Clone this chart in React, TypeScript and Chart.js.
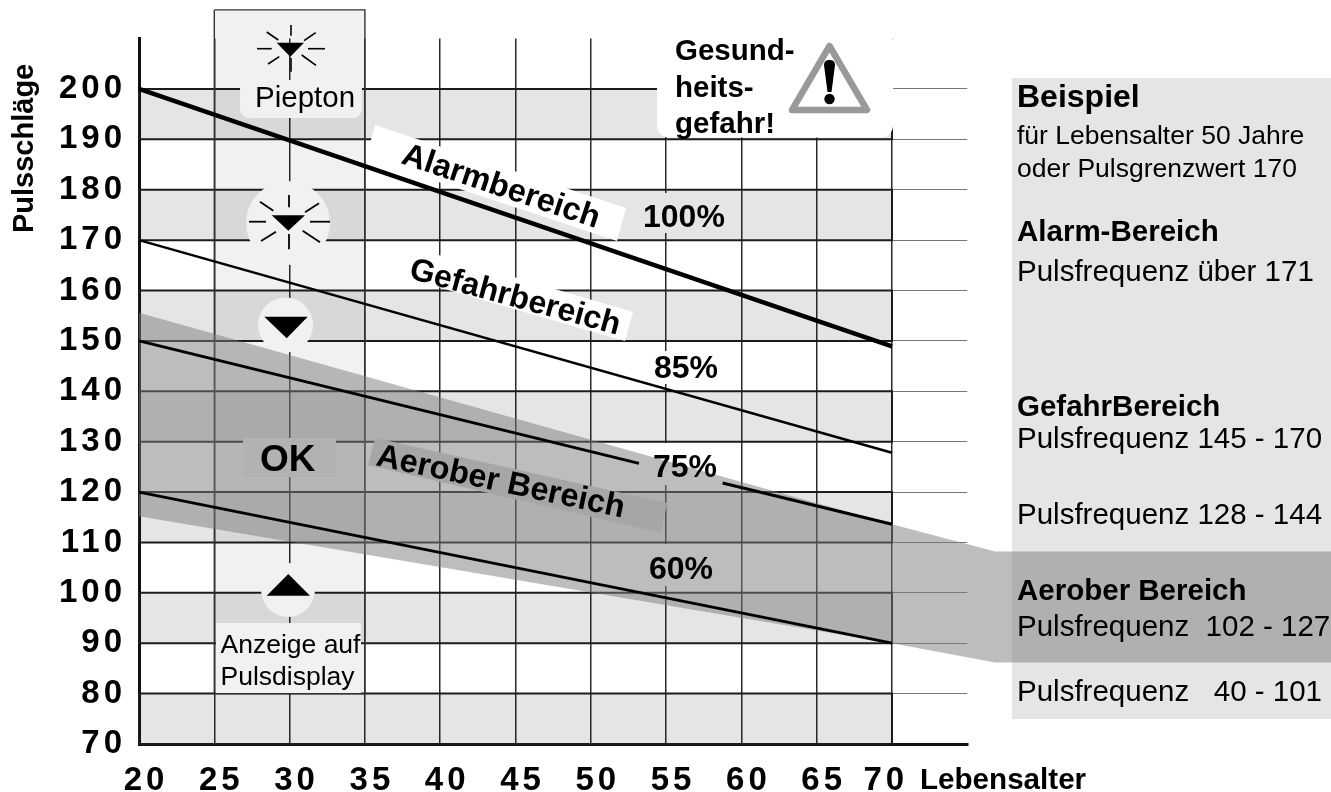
import React, { useEffect, useRef } from "react";
import { Chart, registerables } from "chart.js";

Chart.register(...registerables);

const lineAges = [20, 70];
const pulse100 = [200, 148.9];
const pulse85 = [170, 127.8];
const ages75 = [20, 53.2, null, 58.75, 70];
const pulse75 = [150, 125.7, null, 121.8, 113.6];
const pulse60 = [120, 90];
const bandLows = [190, 170, 150, 130, 110, 90, 70];
const columnAges = [25, 35, 35, 25, 25];
const columnPulse = [215.7, 215.7, 80, 80, 215.7];
const aerobicAges = [20, 70, 76.84, 99.2, 99.2, 76.84, 70, 20];
const aerobicPulse = [155.6, 113.6, 108.2, 108.2, 86.2, 86.2, 90, 115.2];

const yTitle = "Pulsschläge";
const xTitle = "Lebensalter";
const percentLabels = ["100%", "85%", "75%", "60%"];
const zoneLabels = ["Alarmbereich", "Gefahrbereich", "Aerober Bereich"];
const warningLines = ["Gesund-", "heits-", "gefahr!"];
const displayLabels = ["Piepton", "OK", "Anzeige auf", "Pulsdisplay"];
const panelHeads = ["Beispiel", "Alarm-Bereich", "GefahrBereich", "Aerober Bereich"];
const panelNotes = [
  "für Lebensalter 50 Jahre",
  "oder Pulsgrenzwert 170",
];
const panelRanges = [
  "Pulsfrequenz über 171",
  "Pulsfrequenz 145 - 170",
  "Pulsfrequenz 128 - 144",
  "Pulsfrequenz  102 - 127",
  "Pulsfrequenz   40 - 101",
];

const zip = (xs: (number | null)[], ys: (number | null)[]) =>
  xs.map((x, i) => ({ x, y: ys[i] }));

const FONT = '"Liberation Sans", Arial, sans-serif';
const GRID_DARK = "#1c1c1c";

function poly(ctx: any, pts: number[][], color: string) {
  ctx.fillStyle = color;
  ctx.beginPath();
  pts.forEach((p, i) => (i ? ctx.lineTo(p[0], p[1]) : ctx.moveTo(p[0], p[1])));
  ctx.closePath();
  ctx.fill();
}
function circle(ctx: any, x: number, y: number, r: number, color: string) {
  ctx.fillStyle = color;
  ctx.beginPath();
  ctx.arc(x, y, r, 0, Math.PI * 2);
  ctx.fill();
}
function strokes(ctx: any, segs: number[][], w: number) {
  ctx.strokeStyle = "#000";
  ctx.lineWidth = w;
  ctx.lineCap = "butt";
  segs.forEach((s) => {
    ctx.beginPath();
    ctx.moveTo(s[0], s[1]);
    ctx.lineTo(s[2], s[3]);
    ctx.stroke();
  });
}
function text(ctx: any, s: string, x: number, y: number, size: number, bold = false, deg = 0) {
  ctx.save();
  ctx.translate(x, y);
  if (deg) ctx.rotate((deg * Math.PI) / 180);
  ctx.font = `${bold ? "bold " : ""}${size}px ${FONT}`;
  ctx.textAlign = "left";
  ctx.textBaseline = "alphabetic";
  ctx.fillStyle = "#000";
  ctx.fillText(s, 0, 0);
  ctx.restore();
}

function drawLabelGaps(ctx: any) {
  ctx.fillStyle = "#e5e5e5";
  ctx.fillRect(660, 193, 12, 40);
  ctx.fillStyle = "#ffffff";
  ctx.fillRect(660, 351, 12, 33);
  ctx.fillRect(660, 443, 12, 42);
  ctx.fillRect(660, 544, 12, 42);
}

function drawPatches(ctx: any) {
  // rotated label backgrounds
  poly(ctx, [[375, 125], [626, 208], [617, 241], [366, 158]], "#ffffff");
  poly(ctx, [[425, 251], [633, 312], [625, 341], [417, 281]], "#ffffff");
  poly(ctx, [[375, 438], [667, 503], [661, 533], [368, 465]], "#a6a6a6");

  // display column patches
  ctx.fillStyle = "#f1f1f1";
  ctx.beginPath();
  ctx.roundRect(240, 80, 122, 38, 9);
  ctx.fill();
  circle(ctx, 288, 223, 42, "#f1f1f1");
  circle(ctx, 285.5, 325, 27.5, "#f1f1f1");
  circle(ctx, 288, 590, 27, "#f1f1f1");
  ctx.fillRect(216, 623, 145, 70);
  ctx.fillStyle = "#b2b2b2";
  ctx.fillRect(243, 438, 93, 39);

  // warning box
  ctx.fillStyle = "#ffffff";
  ctx.beginPath();
  ctx.roundRect(657, 30, 236, 107.5, 12);
  ctx.fill();
}

function drawIcons(ctx: any) {
  // Piepton icon
  poly(ctx, [[276.7, 42.7], [304, 42.7], [290.3, 56.7]], "#000");
  strokes(ctx, [
    [291, 25, 291, 35.7], [291, 58, 291, 71.7], [257, 48.7, 271.7, 48.7], [308, 48.7, 325, 48.7],
    [266.7, 32, 278.3, 40], [315.7, 32.7, 304, 40.7], [268, 64, 279.3, 56.7], [316, 65.3, 301.7, 55],
  ], 1.6);
  // blinking triangle
  poly(ctx, [[271.7, 215.3], [305, 215.3], [288.3, 230.7]], "#000");
  strokes(ctx, [
    [289, 195, 289, 207.3], [289, 234, 289, 249.3], [249, 221.7, 266, 221.7], [310, 221.7, 330, 221.7],
    [260, 201.7, 273.3, 210.7], [319, 203.3, 305, 212.3], [261, 241, 276, 231.7], [320, 242.3, 302.7, 230.7],
  ], 1.8);
  // steady triangles
  poly(ctx, [[264.3, 316.7], [307.7, 316.7], [286.7, 338.3]], "#000");
  poly(ctx, [[266.7, 595.7], [310, 595.7], [288.3, 574]], "#000");

  // warning triangle
  ctx.strokeStyle = "#999999";
  ctx.lineWidth = 6.5;
  ctx.lineJoin = "round";
  ctx.beginPath();
  ctx.moveTo(829.5, 46);
  ctx.lineTo(867, 110);
  ctx.lineTo(792, 110);
  ctx.closePath();
  ctx.stroke();
  ctx.fillStyle = "#000";
  ctx.beginPath();
  ctx.moveTo(824, 65);
  ctx.quadraticCurveTo(824, 60, 829.5, 60);
  ctx.quadraticCurveTo(835, 60, 835, 65);
  ctx.lineTo(831.5, 92);
  ctx.lineTo(827.5, 92);
  ctx.closePath();
  ctx.fill();
  circle(ctx, 829.5, 99, 5.2, "#000");
}

const overlayPlugin = {
  id: "overlay",
  beforeDraw(chart: any) {
    const ctx = chart.ctx;
    ctx.save();
    ctx.fillStyle = "#ffffff";
    ctx.fillRect(0, 0, chart.width, chart.height);
    ctx.fillStyle = "#e5e5e5";
    ctx.fillRect(1012, 78, 319, 641);
    ctx.restore();
    ctx.letterSpacing = "4px";
  },
  beforeDatasetDraw(chart: any, args: any) {
    const ctx = chart.ctx;
    const ds = chart.data.datasets[args.index];
    ctx.save();
    ctx.letterSpacing = "0px";
    if (ds.preLayer) drawLabelGaps(ctx);
    if (ds.polyFill) {
      ctx.globalCompositeOperation = ds.polyMode || "source-over";
      poly(ctx, args.meta.data.map((p: any) => [p.x, p.y]), ds.polyFill);
      ctx.globalCompositeOperation = "source-over";
    }
    if (ds.patchLayer) drawPatches(ctx);
    ctx.restore();
  },
  afterDraw(chart: any) {
    const ctx = chart.ctx;
    ctx.save();
    ctx.letterSpacing = "0px";
    drawIcons(ctx);

    // axis titles
    ctx.save();
    ctx.translate(33, 233);
    ctx.rotate(-Math.PI / 2);
    ctx.font = `bold 29px ${FONT}`;
    ctx.fillStyle = "#000";
    ctx.textBaseline = "alphabetic";
    ctx.fillText(yTitle, 0, 0);
    ctx.restore();
    text(ctx, xTitle, 920, 789, 29.6, true);

    // percent labels
    const pctPos = [[643, 227], [654, 378], [653, 477], [649, 579]];
    percentLabels.forEach((s, i) => text(ctx, s, pctPos[i][0], pctPos[i][1], 32, true));

    // zone labels
    text(ctx, zoneLabels[0], 400, 163, 32.3, true, 18.4);
    text(ctx, zoneLabels[1], 408, 278, 32, true, 15.2);
    text(ctx, zoneLabels[2], 375, 465, 32.5, true, 12);

    // warning text
    const warnY = [60, 97, 133];
    warningLines.forEach((s, i) => text(ctx, s, 675, warnY[i], 29.5, true));

    // display labels
    text(ctx, displayLabels[0], 255, 107, 29.5);
    text(ctx, displayLabels[1], 260, 470.7, 37, true);
    text(ctx, displayLabels[2], 220.5, 653, 26.5);
    text(ctx, displayLabels[3], 220.5, 685, 26.5);

    // side panel
    const headY = [107, 240.7, 416, 600];
    panelHeads.forEach((s, i) => text(ctx, s, 1017, headY[i], i === 0 ? 32 : 29.5, true));
    const noteY = [144, 176.7];
    panelNotes.forEach((s, i) => text(ctx, s, 1017, noteY[i], 26.5));
    const rangeY = [280.7, 448, 524, 636, 700.7];
    panelRanges.forEach((s, i) => text(ctx, s, 1017, rangeY[i], 29.5));
    ctx.restore();
  },
};

const lineDs = (label: string, xs: any[], ys: any[], width: number, order: number, extra = {}) => ({
  type: "scatter",
  label,
  data: zip(xs, ys),
  showLine: true,
  borderColor: "#000",
  borderWidth: width,
  pointRadius: 0,
  order,
  fill: false,
  clip: false,
  ...extra,
});

export default function App() {
  const ref = useRef<HTMLCanvasElement | null>(null);

  useEffect(() => {
    const bands = bandLows.map((low, i) =>
      lineDs(
        `band ${low}`,
        [20, 70, 70, 20, 20],
        [low + 10, low + 10, low, low, low + 10],
        2,
        100 + i,
        { polyFill: "#e5e5e5", polyMode: "multiply", borderColor: GRID_DARK, borderJoinStyle: "miter" },
      ),
    );
    const chart = new Chart(ref.current as HTMLCanvasElement, {
      type: "scatter",
      data: {
        datasets: [
          ...bands,
          lineDs("Anzeige", columnAges, columnPulse, 1.4, 50, {
            polyFill: "#f1f1f1",
            polyMode: "multiply",
            borderColor: "#333333",
          }),
          lineDs("Aerober Bereich", aerobicAges, aerobicPulse, 0, 40, {
            polyFill: "rgba(123,123,123,0.5)",
            preLayer: true,
            borderColor: "transparent",
          }),
          lineDs("100%", lineAges, pulse100, 4.5, 30, { patchLayer: true }),
          lineDs("85%", lineAges, pulse85, 2.4, 29),
          lineDs("75%", ages75, pulse75, 3, 28),
          lineDs("60%", lineAges, pulse60, 2.8, 27),
        ] as any,
      },
      plugins: [overlayPlugin as any],
      options: {
        animation: false,
        responsive: false,
        events: [],
        layout: { padding: { top: 38.6, right: 363.7, left: 0, bottom: 0 } },
        plugins: { legend: { display: false }, tooltip: { enabled: false } },
        scales: {
          x: {
            type: "linear",
            min: 20,
            max: 75,
            afterFit: (s: any) => {
              s.height = 48;
            },
            border: { color: "#111", width: 3 },
            grid: {
              drawTicks: false,
              color: (c: any) => (c.tick && c.tick.value >= 75 ? "transparent" : "#2a2a2a"),
              lineWidth: 1.5,
            },
            ticks: {
              stepSize: 5,
              autoSkip: false,
              maxRotation: 0,
              padding: 17,
              labelOffset: 7,
              color: "#000",
              font: { family: FONT, size: 33, weight: "bold" },
              callback: (v: any) => (v === 75 ? "" : v === 70 ? "70  " : String(v)),
            },
          },
          y: {
            type: "linear",
            min: 70,
            max: 210,
            afterFit: (s: any) => {
              s.width = 139;
            },
            border: { color: "#111", width: 3 },
            grid: {
              drawTicks: false,
              color: (c: any) => (c.tick && c.tick.value >= 210 ? "transparent" : "#777777"),
              lineWidth: 1,
            },
            ticks: {
              stepSize: 10,
              autoSkip: false,
              padding: 13,
              color: "#000",
              font: { family: FONT, size: 33, weight: "bold" },
              callback: (v: any) => (v === 210 ? "" : String(v)),
            },
          },
        },
      } as any,
    });
    return () => chart.destroy();
  }, []);

  return (
    <div style={{ position: "absolute", left: 0, top: 0, width: 1331, height: 792, overflow: "hidden", background: "#fff" }}>
      <canvas ref={ref} width={1331} height={792} style={{ display: "block", width: 1331, height: 792 }} />
    </div>
  );
}
